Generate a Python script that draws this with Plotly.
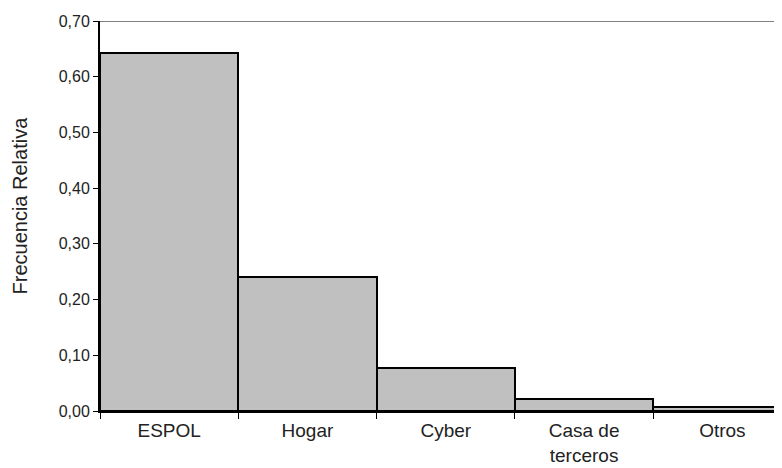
import plotly.graph_objects as go

categories = ["ESPOL", "Hogar", "Cyber", "Casa de<br>terceros", "Otros"]
values = [0.642, 0.240, 0.077, 0.022, 0.007]
y_ticks = [0.0, 0.1, 0.2, 0.3, 0.4, 0.5, 0.6, 0.7]

FONT = "Liberation Sans, Arial, sans-serif"

fig = go.Figure(go.Bar(
    x=categories, y=values,
    marker=dict(color="#C0C0C0", line=dict(color="black", width=2)),
    hoverinfo="skip",
))

fig.update_layout(
    width=774, height=460,
    margin=dict(l=92, r=0, t=13, b=57),
    paper_bgcolor="white", plot_bgcolor="white",
    bargap=0, showlegend=False,
    separators=", ",
    font=dict(family=FONT, size=16, color="#222"),
    shapes=[dict(type="line", xref="paper", yref="y", x0=0, x1=1, y0=0.7, y1=0.7,
                 line=dict(color="#808080", width=2))],
    annotations=[dict(text="Frecuencia Relativa", textangle=-90, xref="paper", yref="paper",
                      x=-0.1173, y=0.527, xanchor="center", yanchor="middle",
                      showarrow=False, font=dict(family=FONT, size=20, color="#222"))],
)
fig.update_xaxes(
    range=[-0.5, 4.431], showgrid=False, showline=True, linecolor="black", linewidth=2,
    ticks="outside", tickson="boundaries", ticklen=6, tickcolor="black", tickwidth=1,
    tickfont=dict(size=19), ticklabelstandoff=1, automargin=False, fixedrange=True,
)
fig.update_yaxes(
    range=[0, 0.7], tickvals=y_ticks, tickformat=".2f", showgrid=False, zeroline=False,
    showline=True, linecolor="black", linewidth=2,
    ticks="outside", ticklen=5, tickcolor="black", tickwidth=1,
    tickfont=dict(size=16), automargin=False, fixedrange=True,
)

fig.write_html("out.html")
